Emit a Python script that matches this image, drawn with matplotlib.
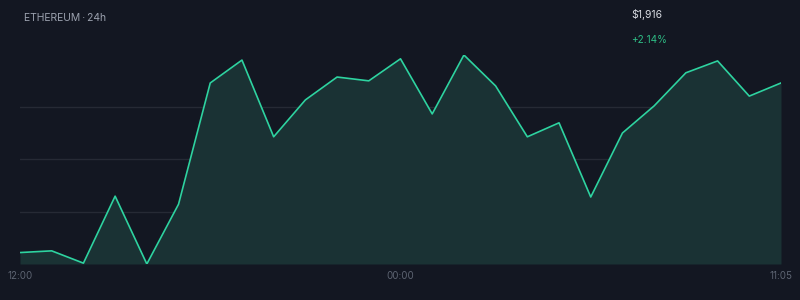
import matplotlib.pyplot as plt

# hourly ETH price over the last 24h
prices = [1876.0, 1876.4, 1873.5, 1889.3, 1873.3, 1887.4, 1916.0, 1921.4,
          1903.3, 1912.0, 1917.4, 1916.5, 1921.7, 1908.7, 1922.6, 1915.3,
          1903.3, 1906.6, 1889.1, 1904.2, 1910.6, 1918.4, 1921.2, 1912.9,
          1916.0]
tick_pos = [0, 12, 24]
tick_labels = ['12:00', '00:00', '11:05']
title = 'ETHEREUM\u2009·\u200924h'
last_price = '$1,916'
change = '+2.14%'

BG = '#131722'
LINE = '#2ed3a0'
FILL = '#1a3234'
GRID = '#262a35'

plt.rcParams['font.family'] = ['Inter', 'DejaVu Sans']

fig = plt.figure(figsize=(8, 3), dpi=100, facecolor=BG)
ax = fig.add_axes([0.025, 0.12, 0.95125, 0.6967])
ax.set_facecolor(BG)

x = list(range(len(prices)))
lo, hi = min(prices), max(prices)

for f in (0.25, 0.5, 0.75):
    ax.axhline(lo + f * (hi - lo), color=GRID, lw=1, zorder=0)

ax.fill_between(x, prices, lo, color=FILL, lw=0, zorder=1)
ax.plot(x, prices, color=LINE, lw=1.2, zorder=2)

ax.set_xlim(0, len(prices) - 1)
ax.set_ylim(lo, hi)
ax.set_yticks([])
ax.set_xticks(tick_pos)
ax.set_xticklabels(tick_labels, color='#5d6472', fontsize=7)
ax.tick_params(axis='x', length=0, pad=5)
for s in ax.spines.values():
    s.set_visible(False)

fig.text(24 / 800, 1 - 18 / 300, title, color='#9ba1ae', fontsize=7.5,
         va='center', ha='left')
fig.text(631 / 800, 1 - 14 / 300, last_price, color='#d6d9e0', fontsize=7.5,
         va='center', ha='left')
fig.text(631 / 800, 1 - 40 / 300, change, color='#2ebd85', fontsize=7.2,
         va='center', ha='left')

fig.savefig('out.png', dpi=100, facecolor=BG)
